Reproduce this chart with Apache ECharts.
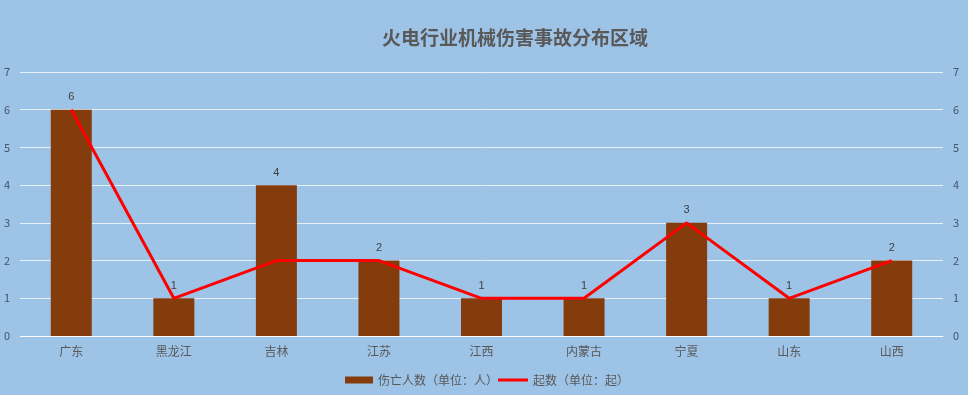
<!DOCTYPE html>
<html><head><meta charset="utf-8">
<script src="https://cdn.jsdelivr.net/npm/echarts@6/dist/echarts.min.js"></script>
<style>html,body{margin:0;padding:0;}#c{width:968px;height:395px;}</style>
</head><body><div id="c"></div>
<script>
const categories = ['广东','黑龙江','吉林','江苏','江西','内蒙古','宁夏','山东','山西'];
const deaths = [6,1,4,2,1,1,3,1,2];
const accidents = [6,1,2,2,1,1,3,1,2];
const titleText = '火电行业机械伤害事故分布区域';
const seriesNames = ['伤亡人数（单位：人）','起数（单位：起）'];

const chart = echarts.init(document.getElementById('c'));
const font = '"Microsoft YaHei","Noto Sans CJK SC",sans-serif';
const axisLab = {color:'#44546a', fontSize:11, fontFamily:font};
const gridLine = {show:true, lineStyle:{color:'rgba(255,255,255,0.75)', width:1}};
const legendText = {color:'#595959', fontSize:12, fontFamily:font};
chart.setOption({
  backgroundColor:'#9dc3e6',
  animation:false,
  title:{text:titleText, left:510, top:23, textAlign:'center', textStyle:{color:'#595959', fontSize:19, fontWeight:'bold', fontFamily:font}},
  legend:[
    {left:340, top:369, itemWidth:28, itemHeight:7, itemGap:4, textStyle:legendText,
      data:[{name:seriesNames[0], icon:'rect'}]},
    {left:493, top:369, itemWidth:30, itemHeight:3, itemGap:4, textStyle:legendText,
      data:[{name:seriesNames[1], icon:'rect'}]}
  ],
  grid:{left:20, right:25, top:72, bottom:59, containLabel:false},
  xAxis:{type:'category', data:categories, axisTick:{show:false},
    axisLine:{lineStyle:{color:'rgba(255,255,255,0.75)'}},
    axisLabel:{color:'#595959', fontSize:12, fontFamily:font, margin:9}},
  yAxis:[
    {type:'value', min:0, max:7, interval:1, axisLabel:Object.assign({margin:10},axisLab), splitLine:gridLine, axisLine:{show:false}},
    {type:'value', min:0, max:7, interval:1, axisLabel:Object.assign({margin:10},axisLab), splitLine:{show:false}, axisLine:{show:false}}
  ],
  series:[
    {name:seriesNames[0], type:'bar', data:deaths, barWidth:41, itemStyle:{color:'#843c0c'},
      label:{show:true, position:'top', color:'#404040', fontSize:11, distance:7}},
    {name:seriesNames[1], type:'line', yAxisIndex:1, data:accidents, symbol:'none', lineStyle:{color:'#ff0000', width:3}, itemStyle:{color:'#ff0000'}}
  ]
});
</script></body></html>
